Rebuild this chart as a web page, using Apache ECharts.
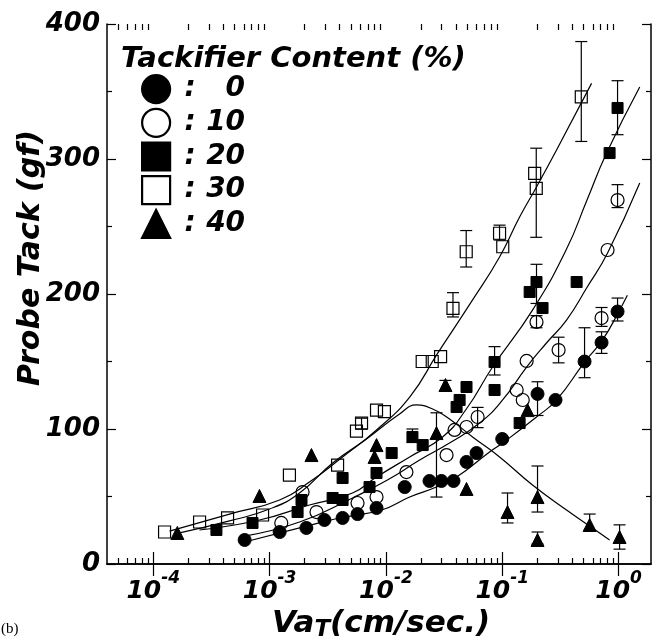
<!DOCTYPE html>
<html>
<head>
<meta charset="utf-8">
<script src="https://cdn.jsdelivr.net/npm/echarts@6/dist/echarts.min.js"></script>
<style>
html, body { margin: 0; padding: 0; background: #fff; }
#chart { width: 652px; height: 640px; }
</style>
</head>
<body>
<div id="chart"></div>
<script>
// tackifier content (%)
var contents = ['0', '10', '20', '30', '40'];

// measured points [Va_T (cm/sec), probe tack (gf)]
var pts0 = [[6.1e-4, 17.8], [1.22e-3, 23.7], [2.07e-3, 26.7], [2.96e-3, 32.6], [4.24e-3, 34.1], [5.7e-3, 37],
    [8.3e-3, 41.5], [0.0145, 57], [0.0237, 61.5], [0.030, 61.5], [0.0381, 61.5], [0.0493, 75.6], [0.0601, 82.2],
    [0.10, 92.6], [0.201, 126], [0.287, 121.5], [0.51, 150], [0.714, 164], [0.98, 187]];
var pts10 = [[1.26e-3, 30.4], [1.92e-3, 53.3], [2.53e-3, 38.5], [5.7e-3, 45.2], [8.3e-3, 49.6], [0.015, 68.1],
    [0.0332, 80.7], [0.0389, 99.3], [0.0493, 101.5], [0.0614, 108.9], [0.133, 128.9], [0.15, 121.5], [0.162, 150.4],
    [0.197, 179.3], [0.305, 158.5], [0.714, 182.2], [0.804, 232.6], [0.98, 269.6]];
var pts20 = [[3.49e-4, 25.2], [7.13e-4, 30.4], [1.74e-3, 38.5], [1.88e-3, 47.4], [3.48e-3, 48.9], [4.24e-3, 63.7],
    [4.24e-3, 47.4], [7.23e-3, 57], [8.3e-3, 67.4], [0.0112, 82.2], [0.0169, 94.1], [0.0207, 88.1], [0.0405, 116.3],
    [0.043, 121.5], [0.0493, 131.1], [0.0859, 149.6], [0.0859, 128.9], [0.141, 104.4], [0.172, 201.5], [0.197, 208.9],
    [0.222, 189.6], [0.436, 208.9], [0.837, 304.4], [0.98, 337.8]];
var pts30 = [[1.25e-4, 23.7], [2.5e-4, 31.1], [4.35e-4, 34.1], [8.7e-4, 36.3], [1.48e-3, 65.9], [3.84e-3, 73.3],
    [5.58e-3, 98.5], [6.17e-3, 104.4], [8.3e-3, 114], [9.7e-3, 112.8], [0.0205, 150], [0.025, 150], [0.0295, 153.6],
    [0.0377, 189.4], [0.049, 231.3], [0.0948, 245], [0.101, 235], [0.19, 289.4], [0.196, 278.3], [0.478, 346]];
var pts40 = [[1.61e-4, 23], [8.18e-4, 50.4], [2.29e-3, 80.7], [7.98e-3, 79.3], [8.3e-3, 88.1], [0.0272, 97],
    [0.0325, 132.6], [0.0493, 55.6], [0.111, 38.5], [0.165, 114], [0.201, 49.6], [0.201, 17.8], [0.564, 28.9], [1.02, 20]];

// error bars [x, low, high]
var err0 = [[0.201, 110, 135], [0.51, 138, 175], [0.714, 156, 172], [0.98, 180, 197]];
var err10 = [[0.0614, 101, 116], [0.305, 149, 168], [0.714, 176, 190], [0.98, 264, 281], [0.197, 175, 184]];
var err20 = [[0.0859, 140, 161], [0.197, 193, 222], [0.98, 318, 358], [0.0169, 90, 100]];
var err30 = [[0.0377, 183, 201], [0.049, 220, 247], [0.0948, 240, 251], [0.196, 242, 308], [0.478, 313, 387], [6.17e-3, 100, 108]];
var err40 = [[0.0272, 49.6, 112], [0.111, 30.4, 52.6], [0.201, 38.5, 72.6], [0.201, 14.8, 23.7], [0.564, 25, 37],
    [1.02, 11, 29], [0.0325, 128, 136]];

// fitted curves
var fit0 = [[6.1e-4, 16.3], [1.81e-3, 26.7], [3.99e-3, 34.1], [9.16e-3, 40], [0.016, 49.6], [0.0272, 57], [0.0405, 64.4],
    [0.0778, 83], [0.1007, 89.6], [0.197, 108.9], [0.293, 121.5], [0.51, 149.6], [0.728, 166], [1.02, 188], [1.19, 199]];
var fit10 = [[6.08e-4, 20.7], [1.81e-3, 31.1], [5.16e-3, 48.9], [0.0103, 62.2], [0.0195, 77], [0.0352, 89.6],
    [0.0638, 104.4], [0.1007, 121.5], [0.162, 145.9], [0.24, 163.7], [0.357, 180.7], [0.536, 205], [0.804, 230.4], [1.52, 282.2]];
var fit20 = [[2.49e-4, 25.2], [8.18e-4, 32.6], [2.2e-3, 43.7], [5.16e-3, 52.6], [8.3e-3, 64.4], [0.016, 79.3],
    [0.0307, 94.1], [0.0493, 115], [0.0826, 145.9], [0.182, 188.1], [0.357, 233.3], [0.531, 268.9], [0.789, 304.4], [1.52, 353.3]];
var fit30 = [[1.38e-4, 24.4], [4.52e-4, 37], [1.22e-3, 47.4], [2.2e-3, 60.7], [4.24e-3, 79.3], [8.3e-3, 99.3],
    [0.016, 123.7], [0.0278, 156], [0.0556, 195.6], [0.0948, 227.4], [0.141, 257], [0.197, 279.3], [0.293, 306.7], [0.586, 356]];
var fit40 = [[1.68e-4, 23], [4.52e-4, 31.9], [9.98e-4, 40.7], [1.81e-3, 52.6], [3.48e-3, 74.8], [6.81e-3, 92.6],
    [0.0131, 111.1], [0.0183, 117.8], [0.0252, 114.8], [0.0352, 107.4], [0.0556, 94.1], [0.0948, 79.3], [0.182, 58.5],
    [0.357, 40], [0.687, 23], [0.837, 17.8]];

// axis ticks
var xTicks = [1e-4, 1e-3, 1e-2, 1e-1, 1];
var xMinor = [];
for (var e = -5; e <= -1; e++) {
    for (var m = 2; m <= 9; m++) {
        var v = m * Math.pow(10, e);
        if (v > 4e-5 && v < 1.9) xMinor.push(v);
    }
}

var FONT = 'DejaVu Sans';
var black = '#000';

function errorSeries(list) {
    return {
        type: 'custom',
        silent: true,
        z: 2,
        data: list,
        encode: { x: 0, y: [1, 2] },
        renderItem: function (params, api) {
            var hi = api.coord([api.value(0), api.value(2)]);
            var lo = api.coord([api.value(0), api.value(1)]);
            var c = 6;
            var st = { stroke: black, lineWidth: 1.2 };
            return {
                type: 'group',
                children: [
                    { type: 'line', shape: { x1: hi[0], y1: hi[1], x2: lo[0], y2: lo[1] }, style: st },
                    { type: 'line', shape: { x1: hi[0] - c, y1: hi[1], x2: hi[0] + c, y2: hi[1] }, style: st },
                    { type: 'line', shape: { x1: lo[0] - c, y1: lo[1], x2: lo[0] + c, y2: lo[1] }, style: st }
                ]
            };
        }
    };
}

function fitSeries(list) {
    return {
        type: 'line',
        data: list,
        smooth: 0.5,
        symbol: 'none',
        silent: true,
        z: 2,
        lineStyle: { color: black, width: 1.2 }
    };
}

function xAxisBase(pos, ticks, len, showLine, showLabel) {
    return {
        type: 'log',
        logBase: 10,
        position: pos,
        min: 4e-5,
        max: 1.9,
        axisLine: { show: showLine, lineStyle: { color: black, width: 1.5 } },
        axisTick: { show: true, inside: true, length: len, customValues: ticks, lineStyle: { color: black, width: 1.2 } },
        splitLine: { show: false },
        minorTick: { show: false },
        axisLabel: {
            show: showLabel,
            customValues: xTicks,
            margin: 6,
            formatter: function (v) {
                var p = Math.round(Math.log10(v));
                return '{b|10}{s|' + p + '}';
            },
            rich: {
                b: { fontFamily: FONT, fontWeight: 'bold', fontStyle: 'italic', fontSize: 25, color: black, lineHeight: 34, verticalAlign: 'bottom' },
                s: { fontFamily: FONT, fontWeight: 'bold', fontStyle: 'italic', fontSize: 17, color: black, lineHeight: 20, verticalAlign: 'top' }
            }
        }
    };
}

function yAxisBase(pos, showLabel) {
    return {
        type: 'value',
        position: pos,
        min: 0,
        max: 400,
        interval: 100,
        axisLine: { show: true, lineStyle: { color: black, width: 1.5 } },
        axisTick: { show: true, inside: true, length: 9, lineStyle: { color: black, width: 1.2 } },
        minorTick: { show: true, splitNumber: 2, length: 5, lineStyle: { color: black, width: 1.2 } },
        splitLine: { show: false },
        axisLabel: {
            show: showLabel,
            margin: 7,
            fontFamily: FONT,
            fontWeight: 'bold',
            fontStyle: 'italic',
            fontSize: 26,
            color: black
        }
    };
}

var solid = { color: black, borderColor: black, borderWidth: 1, opacity: 1 };
var hollow = { color: 'rgba(255,255,255,0)', borderColor: black, borderWidth: 1.2, opacity: 1 };
var symbols = ['circle', 'circle', 'rect', 'rect', 'triangle'];
var sizes = [13, 13, 11, 12, 13];
var styles = [solid, hollow, solid, hollow, solid];
var allPts = [pts0, pts10, pts20, pts30, pts40];

var series = [];
[fit0, fit10, fit20, fit30, fit40].forEach(function (f) { series.push(fitSeries(f)); });
[err0, err10, err20, err30, err40].forEach(function (e) { series.push(errorSeries(e)); });
contents.forEach(function (name, i) {
    series.push({
        name: name,
        type: 'scatter',
        data: allPts[i],
        symbol: symbols[i],
        symbolSize: sizes[i],
        itemStyle: styles[i],
        emphasis: { disabled: true },
        z: 3
    });
});

var myChart = echarts.init(document.getElementById('chart'));

var option = {
    animation: false,
    backgroundColor: '#fff',
    grid: { left: 107, right: 1, top: 24, bottom: 76, outerBoundsMode: 'none', containLabel: false },
    title: {
        text: 'Tackifier Content (%)',
        left: 116,
        top: 40,
        textStyle: { fontFamily: FONT, fontWeight: 'bold', fontStyle: 'italic', fontSize: 29, color: black }
    },
    legend: {
        orient: 'vertical',
        left: 141,
        top: 74,
        padding: 0,
        itemWidth: 28,
        itemHeight: 28,
        itemGap: 3.5,
        selectedMode: false,
        data: contents.map(function (n) { return { name: n, itemStyle: { borderWidth: 2.2, opacity: 1 } }; }),
        formatter: function (name) { return '{c|:}{n|' + name + '}'; },
        textStyle: {
            rich: {
                c: { fontFamily: FONT, fontWeight: 'bold', fontStyle: 'italic', fontSize: 28, color: black, lineHeight: 28, width: 30, align: 'center' },
                n: { fontFamily: FONT, fontWeight: 'bold', fontStyle: 'italic', fontSize: 28, color: black, lineHeight: 28, width: 40, align: 'right' }
            }
        }
    },
    xAxis: [
        xAxisBase('bottom', xTicks, 12, true, true),
        xAxisBase('top', xTicks, 12, true, false),
        xAxisBase('bottom', xMinor, 6, false, false),
        xAxisBase('top', xMinor, 6, false, false)
    ],
    yAxis: [
        yAxisBase('left', true),
        yAxisBase('right', false)
    ],
    graphic: [
        {
            type: 'text',
            x: 31,
            y: 258,
            rotation: Math.PI / 2,
            style: {
                text: 'Probe Tack (gf)',
                fontFamily: FONT, fontWeight: 'bold', fontStyle: 'italic', fontSize: 30,
                fill: black, align: 'center', verticalAlign: 'middle'
            }
        },
        {
            type: 'text',
            x: 381,
            y: 625,
            style: {
                text: '{n|Va}{s|T}{n|(cm/sec.)}',
                align: 'center',
                verticalAlign: 'middle',
                rich: {
                    n: { fontFamily: FONT, fontWeight: 'bold', fontStyle: 'italic', fontSize: 31, fill: black, lineHeight: 34, verticalAlign: 'top' },
                    s: { fontFamily: FONT, fontWeight: 'bold', fontStyle: 'italic', fontSize: 23, fill: black, lineHeight: 22, padding: [18, 0, 0, 0], verticalAlign: 'bottom' }
                }
            }
        },
        {
            type: 'text',
            x: 1,
            y: 622,
            style: { text: '(b)', fontFamily: 'Liberation Serif', fontSize: 15, fill: black }
        }
    ],
    series: series
};

myChart.setOption(option);
window.addEventListener('resize', function () { myChart.resize(); });
</script>
</body>
</html>
